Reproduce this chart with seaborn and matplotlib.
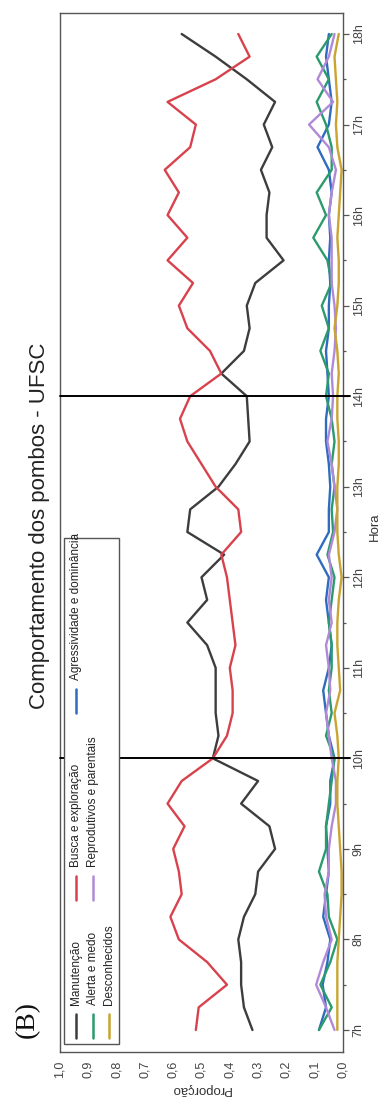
import numpy as np
import pandas as pd
import matplotlib
matplotlib.use("Agg")
import matplotlib.pyplot as plt
import seaborn as sns
from matplotlib.ticker import MultipleLocator, FuncFormatter
from matplotlib.lines import Line2D
from matplotlib.patches import Rectangle

# observation times: every 15 minutes from 7h to 18h
hora = np.arange(7.0, 18.001, 0.25)

manutencao = [0.32, 0.35, 0.36, 0.36, 0.37, 0.35, 0.31, 0.30, 0.24, 0.26, 0.36, 0.30,
              0.46, 0.44, 0.45, 0.45, 0.45, 0.48, 0.55, 0.48, 0.50, 0.42, 0.55, 0.54,
              0.44, 0.38, 0.33, 0.335, 0.34, 0.43, 0.35, 0.33, 0.34, 0.31, 0.21, 0.27,
              0.27, 0.26, 0.29, 0.25, 0.28, 0.24, 0.34, 0.45, 0.57]
busca = [0.52, 0.51, 0.41, 0.48, 0.58, 0.61, 0.57, 0.58, 0.60, 0.56, 0.62, 0.57,
         0.46, 0.41, 0.39, 0.39, 0.40, 0.38, 0.39, 0.40, 0.41, 0.43, 0.36, 0.37,
         0.45, 0.50, 0.55, 0.576, 0.54, 0.43, 0.47, 0.55, 0.58, 0.53, 0.62, 0.55,
         0.62, 0.58, 0.63, 0.54, 0.52, 0.62, 0.45, 0.33, 0.37]
agressividade = [0.085, 0.06, 0.072, 0.055, 0.045, 0.07, 0.06, 0.05, 0.055, 0.06, 0.045, 0.045,
                 0.03, 0.05, 0.06, 0.07, 0.05, 0.04, 0.05, 0.06, 0.05, 0.093, 0.05, 0.05,
                 0.045, 0.05, 0.06, 0.06, 0.05, 0.055, 0.06, 0.05, 0.05, 0.045, 0.05, 0.045,
                 0.05, 0.04, 0.05, 0.09, 0.05, 0.04, 0.05, 0.06, 0.05]
alerta = [0.085, 0.04, 0.08, 0.045, 0.02, 0.05, 0.055, 0.085, 0.06, 0.06, 0.05, 0.04,
          0.03, 0.06, 0.04, 0.05, 0.04, 0.04, 0.05, 0.04, 0.03, 0.055, 0.035, 0.04,
          0.03, 0.04, 0.03, 0.04, 0.06, 0.05, 0.08, 0.05, 0.075, 0.04, 0.055, 0.105,
          0.06, 0.093, 0.04, 0.04, 0.06, 0.093, 0.05, 0.093, 0.04]
reprodutivos = [0.03, 0.06, 0.095, 0.07, 0.04, 0.06, 0.065, 0.05, 0.05, 0.04, 0.025, 0.025,
                0.04, 0.05, 0.06, 0.045, 0.05, 0.06, 0.04, 0.05, 0.04, 0.05, 0.03, 0.02,
                0.03, 0.04, 0.055, 0.04, 0.035, 0.04, 0.03, 0.025, 0.03, 0.04, 0.04, 0.04,
                0.05, 0.04, 0.025, 0.05, 0.12, 0.035, 0.09, 0.05, 0.03]
desconhecidos = [0.02, 0.02, 0.02, 0.02, 0.015, 0.01, 0.005, 0.005, 0.01, 0.015, 0.02, 0.02,
                 0.015, 0.02, 0.03, 0.01, 0.015, 0.02, 0.02, 0.015, 0.005, 0.015, 0.02, 0.02,
                 0.02, 0.015, 0.015, 0.02, 0.02, 0.015, 0.02, 0.03, 0.02, 0.015, 0.015, 0.02,
                 0.015, 0.01, 0.005, 0.02, 0.025, 0.02, 0.025, 0.03, 0.015]

categorias = ["Manutenção", "Busca e exploração", "Agressividade e dominância",
              "Alerta e medo", "Reprodutivos e parentais", "Desconhecidos"]
series = [manutencao, busca, agressividade, alerta, reprodutivos, desconhecidos]
cores = ["#3d3d3d", "#d8424d", "#2f6cbf", "#2b9a6c", "#b08ad8", "#c9a430"]
marcos = [10, 14]

df = pd.concat([pd.DataFrame({"hora": hora, "prop": s, "comportamento": c})
                for c, s in zip(categorias, series)], ignore_index=True)

sns.set_theme(style="white")
plt.rcParams['font.family'] = ['Liberation Sans', 'DejaVu Sans']

W, H = 386, 1111
fig = plt.figure(figsize=(W / 100, H / 100), dpi=100)
ax = fig.add_axes([60 / W, 1 - 1052 / H, (343 - 60) / W, (1052 - 13) / H])


def fx(px):
    return px / W


def fy(py):
    return 1 - py / H


sns.lineplot(data=df, x="prop", y="hora", hue="comportamento", hue_order=categorias,
             palette=cores, orient="y", estimator=None, linewidth=1.7,
             legend=False, ax=ax)

for m in marcos:
    ax.axhline(m, xmin=0, xmax=1.025, color="black", linewidth=1.4, clip_on=False, zorder=5)

ax.set_xlim(1.0, 0.0)
ax.set_ylim(6.757, 18.232)
ax.set_xlabel("")
ax.set_ylabel("")

ax.xaxis.set_major_locator(MultipleLocator(0.1))
ax.xaxis.set_minor_locator(MultipleLocator(0.05))
ax.xaxis.set_major_formatter(FuncFormatter(lambda v, p: f"{abs(v):.1f}".replace(".", ",")))
ax.yaxis.tick_right()
ax.yaxis.set_major_locator(MultipleLocator(1))
ax.yaxis.set_minor_locator(MultipleLocator(0.5))
ax.yaxis.set_major_formatter(FuncFormatter(lambda v, p: f"{int(round(v))}h"))

ax.tick_params(axis="both", which="both", direction="out", colors="#555555",
               labelcolor="#444444", labelsize=9, width=0.9)
ax.tick_params(axis="both", which="major", length=4)
ax.tick_params(axis="both", which="minor", length=2.5)
ax.tick_params(axis="x", which="major", pad=2)
ax.tick_params(axis="y", which="major", pad=3)
for lab in ax.get_xticklabels():
    lab.set_rotation(90)
for lab in ax.get_yticklabels():
    lab.set_rotation(90)
    lab.set_va("center")

for sp in ax.spines.values():
    sp.set_visible(True)
    sp.set_color("#555555")
    sp.set_linewidth(1.0)

# axis titles and heading
fig.text(fx(201), fy(1089), "Proporção", rotation=180, ha="center", va="center",
         fontsize=9.5, color="#333333")
fig.text(fx(375), fy(527), "Hora", rotation=90, ha="center", va="center",
         fontsize=9.5, color="#333333")
fig.text(fx(40), fy(526), "Comportamento dos pombos - UFSC", rotation=90,
         ha="center", va="center", fontsize=16, color="#222222")
fig.text(fx(27), fy(1020), "(B)", rotation=90, ha="center", va="center",
         fontsize=20, family="Liberation Serif", color="#111111")

# rotated legend: box, then three rows of entries laid out along the vertical
fig.patches.append(Rectangle((fx(64), fy(1044)), fx(119) - fx(64), fy(538) - fy(1044),
                             transform=fig.transFigure, facecolor="white",
                             edgecolor="#555555", linewidth=1.0, zorder=10))
leg_fs = 8.5
linhas_x = [76, 93, 109]
posicoes = [(0, 0), (0, 1), (0, 2), (1, 0), (1, 1), (2, 0)]
comp_alca, pad_txt, esp_col = 24, 9, 24
renderer = fig.canvas.get_renderer()
textos = []
for c in categorias:
    t = fig.text(0, 0, c, rotation=90, rotation_mode="anchor", ha="left", va="center",
                 fontsize=leg_fs, color="#222222", zorder=12)
    textos.append(t)
larg = [t.get_window_extent(renderer).height for t in textos]
inicio_col = []
cursor = 1038
for col in range(3):
    inicio_col.append(cursor)
    w = max(l for l, (r, cc) in zip(larg, posicoes) if cc == col)
    cursor -= comp_alca + pad_txt + w + esp_col
for t, cor, (row, col) in zip(textos, cores, posicoes):
    x = linhas_x[row]
    y0 = inicio_col[col]
    fig.lines.append(Line2D([fx(x), fx(x)], [fy(y0), fy(y0 - comp_alca)],
                            transform=fig.transFigure, color=cor, linewidth=1.8, zorder=11))
    t.set_position((fx(x), fy(y0 - comp_alca - pad_txt)))

fig.savefig("out.png", dpi=100)
